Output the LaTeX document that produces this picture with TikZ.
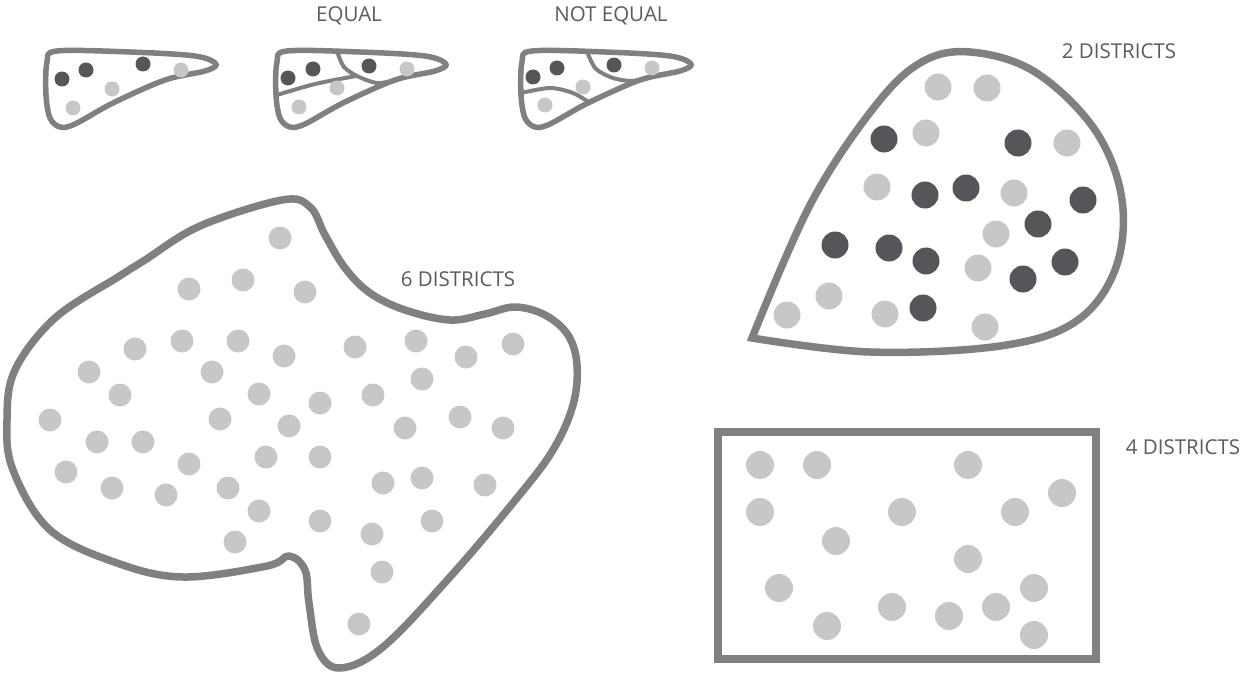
\documentclass[tikz,border=0pt]{standalone}
\usepackage{fontspec}
\setmainfont{Open Sans}
\usetikzlibrary{positioning}

\definecolor{rimgray}{HTML}{808080}
\definecolor{dotlight}{HTML}{C6C7C9}
\definecolor{dotdark}{HTML}{54565A}
\definecolor{labelgray}{HTML}{5A5B5D}

\tikzset{
  rim/.style={draw=rimgray, line width=7.5pt, line join=round},
  smallrim/.style={draw=rimgray, line width=5.5pt, line join=round},
  cut/.style={draw=rimgray, line width=4pt, line cap=round},
  distlabel/.style={text=labelgray, font=\fontsize{20.5}{24}\selectfont, inner sep=0pt},
}

% outline of the small shapes at the top
\newcommand{\leafoutline}{plot[smooth cycle, tension=0.55] coordinates {(57,51) (130,52) (195,56) (216,64) (205,71) (165,80) (113,103) (75,124) (60,127) (50,118) (46,95) (47,62)}}

\begin{document}
\begin{tikzpicture}[x=1pt,y=-1pt]
  \useasboundingbox (0,0) rectangle (1247,674);

  % small shapes
  \draw[smallrim] \leafoutline;
  \foreach \px/\py in {62/79, 86/70, 143/64}
    \fill[dotdark] (\px,\py) circle[radius=7.5pt];
  \foreach \px/\py in {181/70, 112/89, 73/108}
    \fill[dotlight] (\px,\py) circle[radius=7.5pt];

  \begin{scope}[shift={(230,0)}]
    \draw[smallrim] \leafoutline;
    \draw[cut] plot[smooth] coordinates {(47,95) (85,84) (126,76)};
    \draw[cut] plot[smooth] coordinates {(108,54) (114,67) (127,76) (147,83) (166,80)};
    \foreach \px/\py in {58/78, 83/69, 139/66}
      \fill[dotdark] (\px,\py) circle[radius=7.5pt];
    \foreach \px/\py in {177/69, 107/88, 69/107}
      \fill[dotlight] (\px,\py) circle[radius=7.5pt];
  \end{scope}

  \begin{scope}[shift={(475,0)}]
    \draw[smallrim] \leafoutline;
    \draw[cut] plot[smooth] coordinates {(113,54) (121,69) (138,78) (158,81) (178,76)};
    \draw[cut] plot[smooth] coordinates {(46,93) (75,88) (98,93) (115,103)};
    \foreach \px/\py in {58/77, 82/68, 139/65}
      \fill[dotdark] (\px,\py) circle[radius=7.5pt];
    \foreach \px/\py in {177/68, 108/87, 70/105}
      \fill[dotlight] (\px,\py) circle[radius=7.5pt];
  \end{scope}

  \node[distlabel] (equal) at (349,16) {EQUAL};
  \node[distlabel] (notequal) at (611,16) {NOT EQUAL};

  % 2 districts
  \draw[rim, line join=miter] plot[smooth, tension=0.6] coordinates {(752,338) (870,352) (1000,346) (1075,322) (1115,270) (1122,200) (1095,130) (1035,72) (970,52) (920,63) (872,110) (810,205) (752,338)} -- cycle;
  \foreach \px/\py in {884/139, 1018/143, 925/195, 966/188, 1083/200, 1038/224, 835/245, 889/248, 926/261, 1065/262, 1023/279, 923/308}
    \fill[dotdark] (\px,\py) circle[radius=13.5pt];
  \foreach \px/\py in {938/87, 987/88, 926/133, 1067/143, 877/187, 1014/193, 996/234, 978/268, 829/296, 787/315, 885/314, 985/327}
    \fill[dotlight] (\px,\py) circle[radius=13.5pt];
  \node[distlabel] (twodist) at (1119,51) {2 DISTRICTS};

  % 6 districts
  \draw[rim] plot[smooth cycle, tension=0.6] coordinates {(282,200) (310,207) (325,235) (345,268) (370,293) (405,310) (450,320) (485,314) (515,307) (545,315) (568,335) (577,365) (573,405) (553,450) (517,498) (450,577) (383,647) (340,668) (318,650) (309,603) (305,570) (289,556) (267,566) (183,577) (117,563) (50,530) (13,470) (7,420) (15,370) (55,318) (118,277) (145,260) (200,226)};
  \foreach \px/\py in {280/238, 189/289, 243/280, 305/292, 135/349, 182/341, 238/341, 284/356, 355/347, 416/341, 466/357, 513/344,
                       89/372, 212/372, 422/379, 120/395, 259/394, 320/403, 373/395, 50/420, 220/419, 289/426, 405/428, 460/417, 503/428,
                       97/442, 143/442, 266/457, 320/457, 189/464, 66/472, 112/488, 166/495, 228/488, 383/483, 422/478, 485/485,
                       259/511, 320/521, 372/534, 432/521, 235/542, 382/572, 359/624}
    \fill[dotlight] (\px,\py) circle[radius=11.5pt];
  \node[distlabel] (sixdist) at (458,279) {6 DISTRICTS};

  % 4 districts
  \draw[rim, line width=8pt, line join=miter] (718,432) rectangle (1096,659);
  \foreach \px/\py in {760/465, 817/465, 968/465, 1062/493, 760/512, 902/512, 1015/512, 836/541,
                       968/559, 779/588, 1034/588, 892/607, 996/607, 949/616, 827/626, 1034/635}
    \fill[dotlight] (\px,\py) circle[radius=14pt];
  \node[distlabel] (fourdist) at (1183,447) {4 DISTRICTS};
\end{tikzpicture}
\end{document}
